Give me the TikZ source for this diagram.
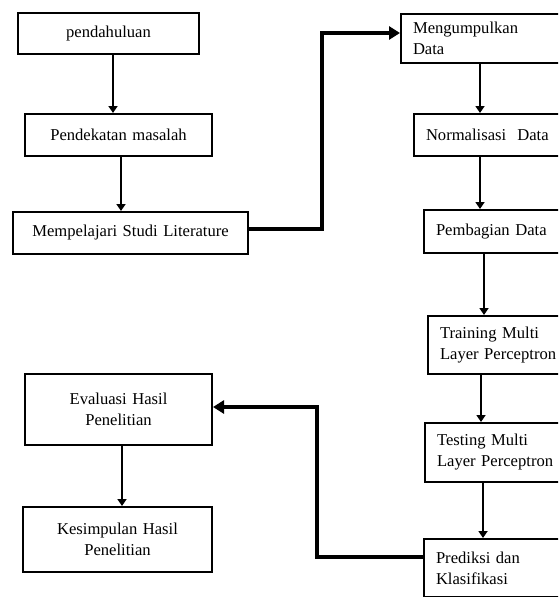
\documentclass[tikz,border=0pt]{standalone}
\usepackage{fontspec}
\setmainfont{Liberation Serif}
\usetikzlibrary{arrows.meta}
\newcommand{\boxfont}{\fontsize{16.6}{21}\selectfont}

\tikzset{
  box/.style={draw, line width=2pt, rectangle, anchor=north west, inner ysep=0pt, font=\boxfont},
  leftbox/.style={box, align=center, inner xsep=0pt, text width=#1},
  rightbox/.style={box, align=left, inner xsep=12pt, text width=#1},
  flow/.style={line width=2.6pt, -{Triangle[length=7pt,width=9pt]}},
  link/.style={line width=4pt, -{Triangle[length=11pt,width=13pt]}}
}

\begin{document}
\begin{tikzpicture}[x=1pt,y=-1pt]
\useasboundingbox (0,0) rectangle (558,597);
\clip (0,0) rectangle (558,597);

% left column
\node[leftbox=181pt, minimum height=41pt] (intro) at (17,12) {pendahuluan};
\node[leftbox=187pt, minimum height=42pt] (approach) at (24,113) {Pendekatan masalah};
\node[leftbox=235pt, minimum height=42pt] (study) at (12,211) {Mempelajari Studi Literature};

% right column
\node[rightbox=166pt, minimum height=49pt] (collect) at (400,13) {Mengumpulkan\\Data};
\node[rightbox=153pt, minimum height=42pt] (norm) at (413,113) {Normalisasi\ \ Data};
\node[rightbox=143pt, minimum height=43pt] (split) at (423,209) {Pembagian Data};
\node[rightbox=139pt, minimum height=58pt] (train) at (427,315) {Training Multi\\Layer Perceptron};
\node[rightbox=142pt, minimum height=59pt] (test) at (424,422) {Testing Multi\\Layer Perceptron};
\node[rightbox=143pt, minimum height=58pt] (predict) at (423,538) {Prediksi dan\\Klasifikasi};

% bottom left
\node[leftbox=187pt, minimum height=71pt] (eval) at (24,373) {Evaluasi Hasil\\Penelitian};
\node[leftbox=189pt, minimum height=65pt] (concl) at (22,506) {Kesimpulan Hasil\\Penelitian};

% arrows
\draw[flow] ([xshift=96pt]intro.south west) -- ([xshift=96pt]intro.south west |- approach.north);
\draw[flow] ([xshift=97pt]approach.south west) -- ([xshift=97pt]approach.south west |- study.north);
\draw[link] ([yshift=4pt]study.east) -- ++(73,0) |- ([yshift=5.5pt]collect.west);
\draw[flow] ([xshift=80pt]collect.south west) -- ([xshift=80pt]collect.south west |- norm.north);
\draw[flow] ([xshift=67pt]norm.south west) -- ([xshift=67pt]norm.south west |- split.north);
\draw[flow] ([xshift=61pt]split.south west) -- ([xshift=61pt]split.south west |- train.north);
\draw[flow] ([xshift=54pt]train.south west) -- ([xshift=54pt]train.south west |- test.north);
\draw[flow] ([xshift=59pt]test.south west) -- ([xshift=59pt]test.south west |- predict.north);
\draw[link] ([yshift=11pt]predict.west) -- ++(-106,0) |- ([yshift=2.5pt]eval.east);
\draw[flow] ([xshift=98pt]eval.south west) -- ([xshift=98pt]eval.south west |- concl.north);
\end{tikzpicture}
\end{document}
